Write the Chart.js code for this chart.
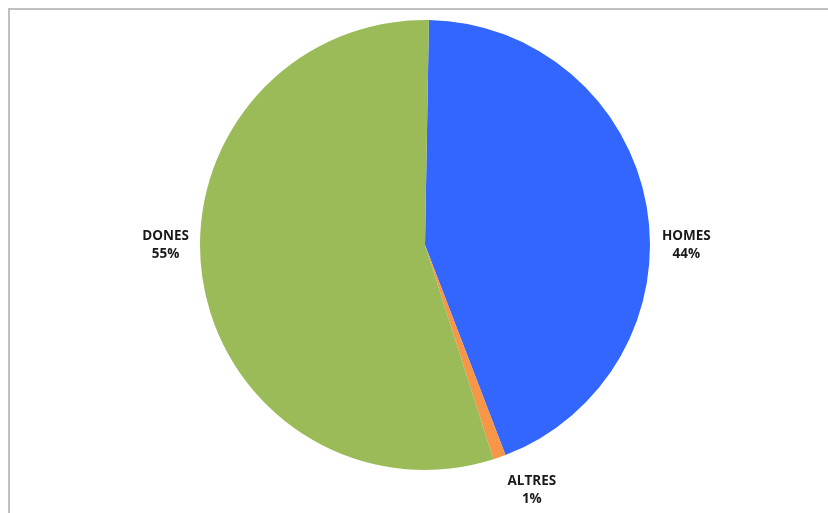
<!DOCTYPE html>
<html>
<head>
<meta charset="utf-8">
<script src="https://cdn.jsdelivr.net/npm/chart.js@4"></script>
<style>
  html, body { margin: 0; padding: 0; background: #fff; overflow: hidden; }
  #marc {
    position: absolute; left: 8px; top: 8px; width: 830px; height: 520px;
    border-top: 2px solid #c0c0c0; border-left: 2px solid #c0c0c0;
  }
  #wrap { position: absolute; left: 0; top: 0; width: 828px; height: 513px; }
</style>
</head>
<body>
<div id="marc"></div>
<div id="wrap"><canvas id="graficaGenere"></canvas></div>
<script>
// dades del gràfic
const categories = ['HOMES', 'ALTRES', 'DONES'];
const valors     = [43.9, 0.9, 55.2];
const colors     = ['#3366ff', '#f79646', '#9bbb59'];

// etiquetes fora del pastís: nom + percentatge (com l'"ajust òptim" d'Excel)
const etiquetesFora = {
    id: 'etiquetesFora',
    afterDatasetsDraw(chart) {
        const ctx = chart.ctx;
        const meta = chart.getDatasetMeta(0);
        const total = valors.reduce((a, b) => a + b, 0);
        ctx.save();
        ctx.fillStyle = '#1a1a1a';
        ctx.font = 'bold 13.5px "Open Sans", sans-serif';
        ctx.textAlign = 'center';
        ctx.textBaseline = 'middle';
        meta.data.forEach((arc, i) => {
            const angle = (arc.startAngle + arc.endAngle) / 2;
            const cos = Math.cos(angle), sin = Math.sin(angle);
            const r = arc.outerRadius;
            const pct = Math.round(valors[i] / total * 100) + '%';
            const w = Math.max(ctx.measureText(categories[i]).width, ctx.measureText(pct).width);
            let cx, cy;
            if (Math.abs(cos) > 0.7) {
                // a la dreta o a l'esquerra, a l'altura del centre
                cx = cos > 0 ? arc.x + r + 12 + w / 2 : arc.x - r - 11 - w / 2;
                cy = arc.y;
            } else {
                const px = arc.x + cos * (r + 12);
                const py = arc.y + sin * (r + 12);
                cx = cos > 0 ? px + 4 + w / 2 : px - 4 - w / 2;
                cy = sin > 0 ? py + 22 : py - 22;
            }
            ctx.fillText(categories[i], cx, cy - 9);
            ctx.fillText(pct, cx, cy + 9);
        });
        ctx.restore();
    }
};

new Chart(document.getElementById('graficaGenere'), {
    type: 'pie',
    data: {
        labels: categories,
        datasets: [{
            data: valors,
            backgroundColor: colors,
            borderWidth: 0
        }]
    },
    options: {
        responsive: true,
        maintainAspectRatio: false,
        animation: false,
        rotation: 1,
        layout: { padding: { top: 20, bottom: 43, left: 200, right: 178 } },
        plugins: {
            legend: { display: false },
            tooltip: { enabled: false }
        }
    },
    plugins: [etiquetesFora]
});
</script>
</body>
</html>
